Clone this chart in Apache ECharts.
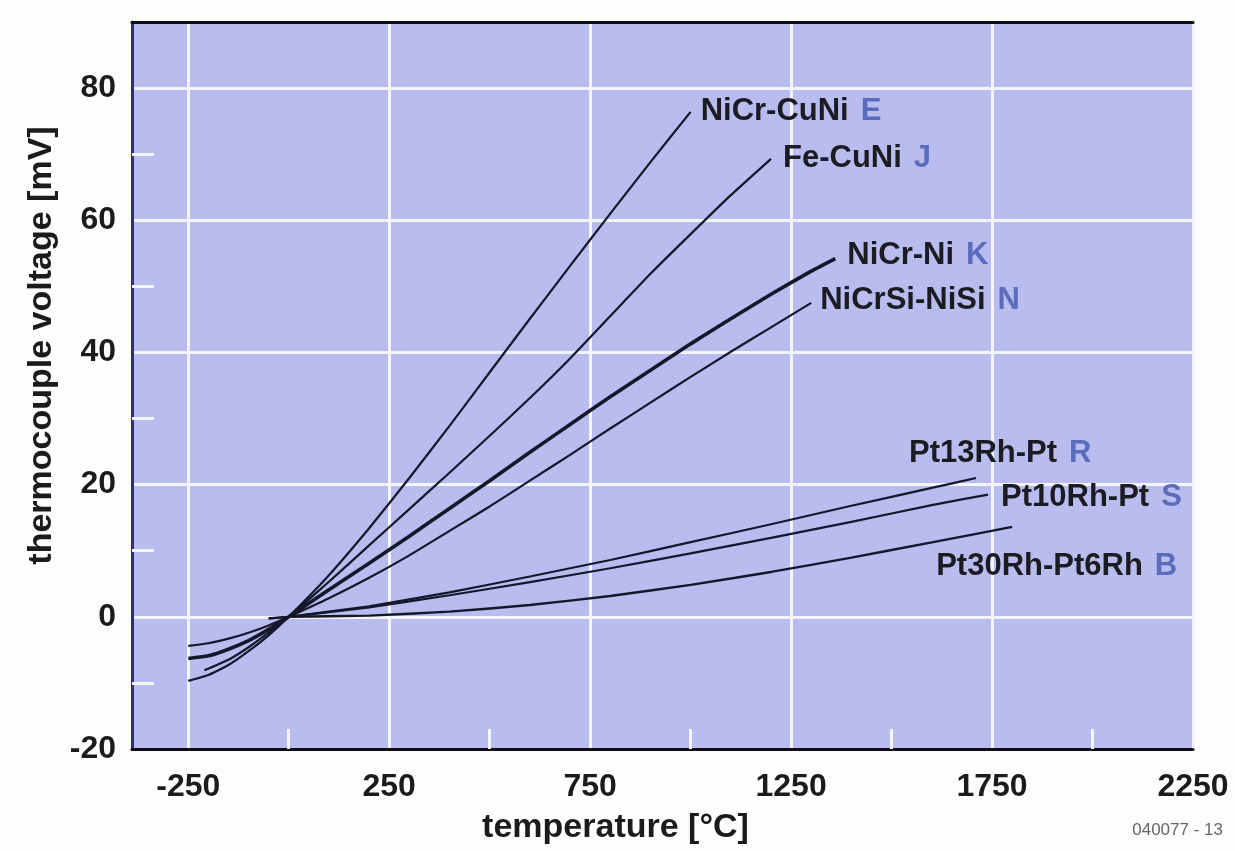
<!DOCTYPE html>
<html>
<head>
<meta charset="utf-8">
<title>thermocouple voltage</title>
<script src="https://cdn.jsdelivr.net/npm/echarts@6/dist/echarts.min.js"></script>
<style>
  html, body { margin: 0; padding: 0; background: #fdfdfb; }
  #chart { width: 1235px; height: 851px; }
</style>
</head>
<body>
<div id="chart"></div>
<script>
// axis ticks
var xTicks = [-250, 250, 750, 1250, 1750, 2250];
var xMinorTicks = [0, 500, 1000, 1500, 2000];
var yTicks = [-20, 0, 20, 40, 60, 80];
var yMinorTicks = [-10, 10, 30, 50, 70];

// thermocouple pairs and their type letter
var names = ['NiCr-CuNi', 'Fe-CuNi', 'NiCr-Ni', 'NiCrSi-NiSi', 'Pt13Rh-Pt', 'Pt10Rh-Pt', 'Pt30Rh-Pt6Rh'];
var letters = ['E', 'J', 'K', 'N', 'R', 'S', 'B'];

// temperature [°C] and voltage [mV]
var tempE = [-250, -200, -150, -100, -50, 0, 100, 200, 300, 400, 500, 600, 700, 800, 900, 1000];
var voltE = [-9.7, -8.8, -7.3, -5.2, -2.8, 0, 6.3, 13.4, 21.0, 28.9, 37.0, 45.1, 53.1, 61.0, 68.8, 76.4];

var tempJ = [-210, -150, -100, -50, 0, 100, 200, 300, 400, 500, 600, 700, 800, 900, 1000, 1100, 1200];
var voltJ = [-8.1, -6.5, -4.6, -2.4, 0, 5.3, 10.8, 16.3, 21.8, 27.4, 33.1, 39.1, 45.5, 51.9, 57.9, 63.8, 69.3];

var tempK = [-250, -200, -150, -100, -50, 0, 100, 200, 300, 400, 500, 600, 700, 800, 900, 1000, 1100, 1200, 1300, 1360];
var voltK = [-6.3, -5.9, -4.9, -3.6, -1.9, 0, 4.1, 8.1, 12.2, 16.4, 20.6, 24.9, 29.1, 33.3, 37.3, 41.3, 45.1, 48.8, 52.3, 54.2];

var tempN = [-250, -200, -150, -100, -50, 0, 100, 200, 300, 400, 500, 600, 700, 800, 900, 1000, 1100, 1200, 1300];
var voltN = [-4.4, -4.0, -3.3, -2.4, -1.3, 0, 2.8, 5.9, 9.3, 13.0, 16.7, 20.6, 24.5, 28.5, 32.4, 36.3, 40.1, 43.8, 47.5];

var tempR = [-50, 0, 200, 400, 600, 800, 1000, 1200, 1400, 1600, 1710];
var voltR = [-0.25, 0, 1.6, 3.7, 6.1, 8.6, 11.3, 14.0, 16.8, 19.5, 21.0];

var tempS = [-50, 0, 200, 400, 600, 800, 1000, 1200, 1400, 1600, 1740];
var voltS = [-0.24, 0, 1.44, 3.26, 5.24, 7.35, 9.59, 11.95, 14.37, 16.9, 18.5];

var tempB = [0, 200, 400, 600, 800, 1000, 1200, 1400, 1600, 1800];
var voltB = [0, 0.18, 0.79, 1.79, 3.15, 4.83, 6.79, 8.96, 11.26, 13.6];

var temps = [tempE, tempJ, tempK, tempN, tempR, tempS, tempB];
var volts = [voltE, voltJ, voltK, voltN, voltR, voltS, voltB];

var FONT = '"Liberation Sans", Arial, sans-serif';
var gridWhite = '#f3f4fd';

var lineWidths = [2.2, 2.2, 3.6, 2.2, 2.2, 2.2, 2.4];
var labelOffsets = [[2, 0], [4, 0], [4, -3], [1, -2], [-75, -25], [5, 3], [-84, 40]];

var myChart = echarts.init(document.getElementById('chart'));

var series = names.map(function (nm, i) {
    var pts = temps[i].map(function (t, j) { return [t, volts[i][j]]; });
    var txt = '{n|' + nm + '}{t|' + letters[i] + '}';
    return {
        name: nm + ' ' + letters[i],
        type: 'line',
        xAxisIndex: 0,
        yAxisIndex: 0,
        data: pts,
        showSymbol: false,
        smooth: 0.15,
        lineStyle: { color: '#15172b', width: lineWidths[i] },
        endLabel: {
            show: true,
            distance: 8,
            offset: labelOffsets[i],
            formatter: function () { return txt; },
            rich: {
                n: { fontFamily: FONT, fontSize: 31, fontWeight: 'bold', color: '#1b1b22' },
                t: { fontFamily: FONT, fontSize: 31, fontWeight: 'bold', color: '#5c6cbc', padding: [0, 0, 0, 12] }
            }
        },
        z: 5
    };
});

function plain(v) { return String(v); }

var option = {
    animation: false,
    backgroundColor: '#fdfdfb',
    grid: {
        left: 132, top: 22, right: 42, bottom: 102,
        show: true,
        backgroundColor: '#b8bcee',
        borderColor: '#80839a',
        borderWidth: 2
    },
    xAxis: [
        {
            type: 'value', min: -390, max: 2250, position: 'bottom',
            axisLine: { show: true, onZero: false, lineStyle: { color: '#0e0e16', width: 3 } },
            axisTick: { show: false, customValues: xTicks },
            axisLabel: {
                customValues: xTicks, formatter: plain, color: '#1b1b1b', fontFamily: FONT,
                fontSize: 32, fontWeight: 'bold', margin: 22
            },
            splitLine: { show: true, lineStyle: { color: gridWhite, width: 3 } },
            name: 'temperature [°C]',
            nameLocation: 'middle',
            nameGap: 62,
            nameTextStyle: {
                fontFamily: FONT, fontSize: 34, fontWeight: 'bold', color: '#1b1b1b',
                padding: [0, 94, 0, 0]
            }
        },
        {
            type: 'value', min: -390, max: 2250, position: 'top',
            axisLine: { show: true, onZero: false, lineStyle: { color: '#0e0e16', width: 3 } },
            axisTick: { show: false },
            axisLabel: { show: false },
            splitLine: { show: false }
        },
        {
            type: 'value', min: -390, max: 2250, position: 'bottom',
            axisLine: { show: false, onZero: false },
            axisTick: {
                show: true, inside: true, length: 20, customValues: xMinorTicks,
                lineStyle: { color: gridWhite, width: 3 }
            },
            axisLabel: { show: false },
            splitLine: { show: false }
        }
    ],
    yAxis: [
        {
            type: 'value', min: -20, max: 90,
            axisLine: { show: true, onZero: false, lineStyle: { color: '#2d3170', width: 3 } },
            axisTick: { show: false, customValues: yTicks },
            axisLabel: {
                customValues: yTicks, formatter: plain, color: '#1b1b1b', fontFamily: FONT,
                fontSize: 32, fontWeight: 'bold', margin: 16
            },
            splitLine: { show: true, lineStyle: { color: gridWhite, width: 3 } },
            name: 'thermocouple voltage [mV]',
            nameLocation: 'middle',
            nameRotate: 90,
            nameGap: 70,
            nameTextStyle: {
                fontFamily: FONT, fontSize: 34, fontWeight: 'bold', color: '#1b1b1b',
                padding: [0, 0, 0, 80]
            }
        },
        {
            type: 'value', min: -20, max: 90, position: 'left',
            axisLine: { show: false, onZero: false },
            axisTick: {
                show: true, inside: true, length: 22, customValues: yMinorTicks,
                lineStyle: { color: gridWhite, width: 3 }
            },
            axisLabel: { show: false },
            splitLine: { show: false }
        }
    ],
    graphic: [
        {
            type: 'text', right: 12, bottom: 12,
            style: { text: '040077 - 13', fill: '#666', fontFamily: FONT, fontSize: 17 }
        }
    ],
    series: series
};

myChart.setOption(option);
</script>
</body>
</html>
